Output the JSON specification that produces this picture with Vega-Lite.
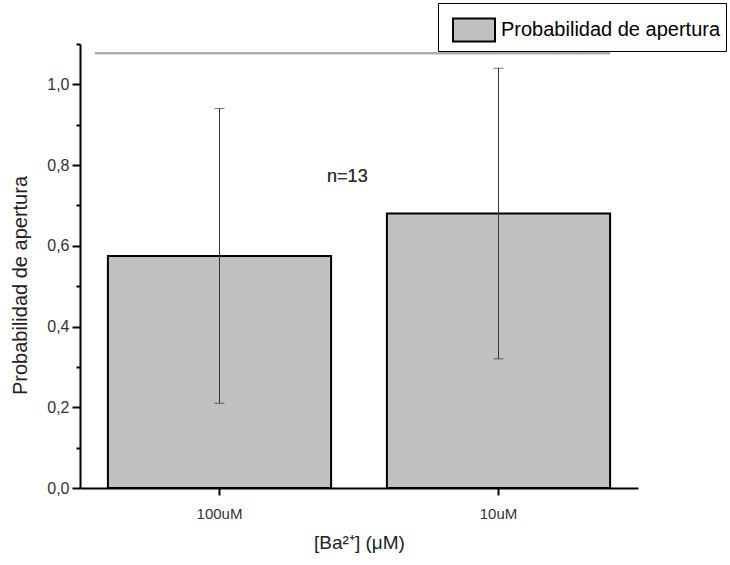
{
  "$schema": "https://vega.github.io/schema/vega-lite/v6.json",
  "width": 558,
  "height": 444,
  "autosize": {"type": "none"},
  "padding": {"left": 80, "top": 44, "right": 92, "bottom": 77},
  "background": "white",
  "config": {
    "font": "Liberation Sans",
    "view": {"stroke": null},
    "axis": {
      "grid": false,
      "domainColor": "black",
      "domainWidth": 2,
      "tickColor": "black",
      "tickWidth": 2,
      "labelColor": "#333333",
      "labelFont": "Liberation Sans",
      "titleFont": "Liberation Sans",
      "titleFontWeight": "normal",
      "titleColor": "#222222"
    },
    "legend": {
      "orient": "none",
      "legendX": 358,
      "legendY": -41,
      "strokeColor": "black",
      "strokeWidth": 1,
      "fillColor": "white",
      "padding": 5,
      "symbolType": "M-1,-0.55H1V0.55H-1Z",
      "symbolSize": 1764,
      "symbolOffset": 9,
      "symbolStrokeColor": "black",
      "symbolStrokeWidth": 2,
      "labelFont": "Liberation Sans",
      "labelFontSize": 20,
      "labelColor": "black",
      "labelOffset": 5,
      "labelLimit": 0
    }
  },
  "data": {
    "values": [
      {"conc": "100uM", "p": 0.575, "lo": 0.21, "hi": 0.94},
      {"conc": "10uM", "p": 0.68, "lo": 0.32, "hi": 1.04}
    ]
  },
  "encoding": {
    "x": {
      "field": "conc",
      "type": "nominal",
      "sort": null,
      "scale": {"paddingInner": 0.2, "paddingOuter": 0.1},
      "axis": {
        "title": "[Ba²⁺] (μM)",
        "labelAngle": 0,
        "tickSize": 7,
        "labelPadding": 11,
        "labelFontSize": 15,
        "titleFontSize": 19,
        "titlePadding": 12
      }
    }
  },
  "layer": [
    {
      "mark": {"type": "bar", "stroke": "black", "strokeWidth": 2},
      "encoding": {
        "y": {
          "field": "p",
          "type": "quantitative",
          "scale": {"domain": [0, 1.1], "nice": false},
          "axis": {
            "values": [0, 0.2, 0.4, 0.6, 0.8, 1.0],
            "labelExpr": "replace(format(datum.value, '.1f'), '.', ',')",
            "tickSize": 8,
            "labelPadding": 3,
            "labelFontSize": 16,
            "title": "Probabilidad de apertura",
            "titleFontSize": 20,
            "titleAngle": -90,
            "titleX": -60,
            "titleY": 241,
            "titleAlign": "center",
            "titleBaseline": "middle"
          }
        },
        "fill": {
          "datum": "Probabilidad de apertura",
          "scale": {"range": ["#c0c0c0"]},
          "legend": {"title": null}
        }
      }
    },
    {
      "mark": {"type": "rule", "color": "#333333", "strokeWidth": 1},
      "encoding": {
        "y": {
          "field": "lo",
          "type": "quantitative",
          "axis": {
            "orient": "left",
            "values": [0.1, 0.3, 0.5, 0.7, 0.9, 1.1],
            "labels": false,
            "domain": false,
            "tickSize": 4,
            "title": null
          }
        },
        "y2": {"field": "hi"}
      }
    },
    {
      "mark": {"type": "tick", "color": "#333333", "thickness": 1, "size": 10},
      "encoding": {"y": {"field": "lo", "type": "quantitative", "axis": null}}
    },
    {
      "mark": {"type": "tick", "color": "#333333", "thickness": 1, "size": 10},
      "encoding": {"y": {"field": "hi", "type": "quantitative", "axis": null}}
    },
    {
      "mark": {"type": "rule", "color": "#aaaaaa", "strokeWidth": 2, "xOffset": -13},
      "encoding": {
        "x": {"datum": "100uM", "bandPosition": 0},
        "x2": {"datum": "10uM", "bandPosition": 1},
        "y": {"datum": 1.077, "axis": null}
      }
    },
    {
      "mark": {"type": "text", "align": "left", "baseline": "middle", "fontSize": 18, "fontWeight": "normal", "color": "#333333", "dx": -4},
      "encoding": {
        "x": {"datum": "100uM", "bandPosition": 1},
        "y": {"datum": 0.77, "axis": null},
        "text": {"value": "n=13"}
      }
    }
  ],
  "resolve": {"axis": {"y": "independent"}}
}
